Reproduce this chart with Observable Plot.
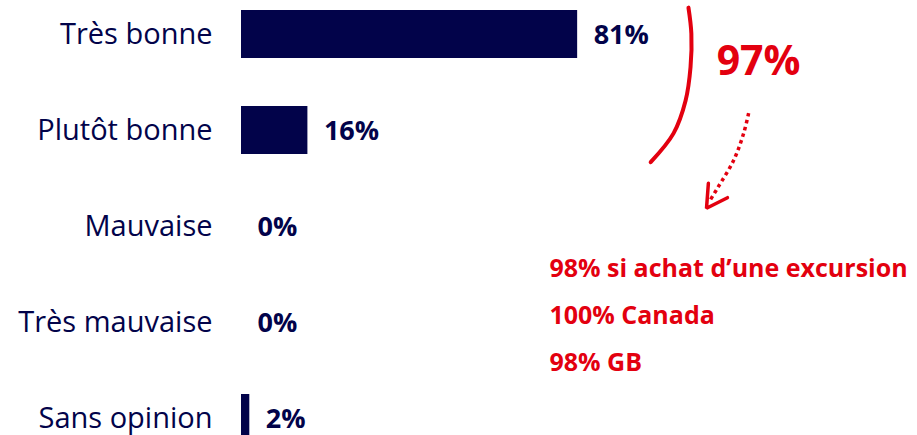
<!DOCTYPE html>
<html>
<head>
<meta charset="utf-8">
<script src="https://cdn.jsdelivr.net/npm/d3@7"></script>
<script src="https://cdn.jsdelivr.net/npm/@observablehq/plot@0.6"></script>
<style>
  html, body { margin: 0; padding: 0; background: #fff; overflow: hidden; }
  #chart svg { display: block; }
</style>
</head>
<body>
<div id="chart"></div>
<script>
// ---- data ----
const categories = ["Très bonne", "Plutôt bonne", "Mauvaise", "Très mauvaise", "Sans opinion"];
const values = [81, 16, 0, 0, 2];
const totalLabel = "97%";
const detailLabels = ["98% si achat d’une excursion", "100% Canada", "98% GB"];

// ---- annotation geometry (x in %, y in category index units) ----
const bracketX = [107.7, 108.4, 108.2, 107.0, 104.1, 98.6];
const bracketY = [-0.28, -0.01, 0.34, 0.69, 1.03, 1.33];
const dottedX = [122.2, 121.0, 118.6, 114.7, 113.0];
const dottedY = [0.82, 1.03, 1.31, 1.60, 1.72];
const headX = [112.5, 112.05, 117.1];
const headY = [1.55, 1.81, 1.70];
const totalPos = {x: 114.5, y: 0.29};
const detailX = 74.2;
const detailY = [2.44, 2.93, 3.42];

const NAVY = "#02034a";
const RED = "#e3000f";
const FONT = "Open Sans";

const rows = categories.map((c, i) => ({category: c, index: i, value: values[i]}));
const bracket = bracketX.map((x, i) => ({x, y: bracketY[i]}));
const dotted = dottedX.map((x, i) => ({x, y: dottedY[i]}));
const head = headX.map((x, i) => ({x, y: headY[i]}));
const details = detailLabels.map((t, i) => ({t, x: detailX, y: detailY[i]}));

const chart = Plot.plot({
  width: 917,
  height: 435,
  margin: 0,
  style: {fontFamily: FONT, background: "#fff", overflow: "visible"},
  x: {domain: [0, 100], range: [241, 656], axis: null},
  y: {domain: [0, 4], range: [34, 418], axis: null},
  marks: [
    Plot.rectX(rows, {x1: 0, x2: "value", y1: d => d.index - 0.25, y2: d => d.index + 0.25, fill: NAVY}),
    Plot.text(rows, {x: 0, y: "index", text: "category", dx: -29, textAnchor: "end",
      fontSize: 29, fill: NAVY, fontFamily: FONT}),
    Plot.text(rows, {x: "value", y: "index", text: d => d.value + "%", dx: 16, dy: 1, textAnchor: "start",
      fontSize: 27, fontWeight: 700, fill: NAVY, fontFamily: FONT}),
    Plot.line(bracket, {x: "x", y: "y", curve: "catmull-rom", stroke: RED, strokeWidth: 4}),
    Plot.line(dotted, {x: "x", y: "y", curve: "catmull-rom", stroke: RED, strokeWidth: 3.5,
      strokeDasharray: "3.5,3.5", strokeLinecap: "butt"}),
    Plot.line(head, {x: "x", y: "y", stroke: RED, strokeWidth: 3.5, strokeLinejoin: "miter"}),
    Plot.text([totalPos], {x: "x", y: "y", text: () => totalLabel, textAnchor: "start",
      fontSize: 41, fontWeight: 700, fill: RED, fontFamily: FONT}),
    Plot.text(details, {x: "x", y: "y", text: "t", textAnchor: "start",
      fontSize: 25, fontWeight: 700, fill: RED, fontFamily: FONT})
  ]
});
document.getElementById("chart").appendChild(chart);
</script>
</body>
</html>
